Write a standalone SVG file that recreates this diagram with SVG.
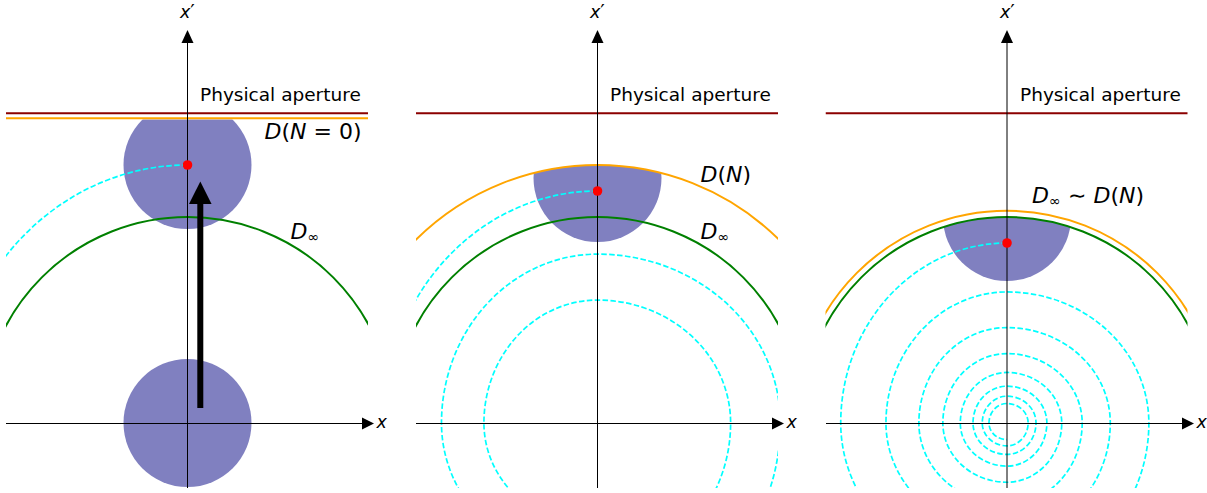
<svg xmlns="http://www.w3.org/2000/svg" width="1207" height="493" viewBox="0 0 1207 493">
<style>
text{font-family:"DejaVu Sans","Liberation Sans",sans-serif;fill:#000}
.lbl{font-size:18.5px}
.math{font-size:22px}
.axl{font-size:17.5px}
.sub{font-size:14.5px}
.pr{font-size:20px}
.it{font-style:italic}
.ax{stroke:#000;stroke-width:1;fill:none}
.ap{stroke:#8b0000;stroke-width:2}
.or{stroke:#ffa500;stroke-width:2;fill:none}
.gr{stroke:#008000;stroke-width:2;fill:none}
.sp{stroke:#00ffff;stroke-width:1.7;fill:none;stroke-dasharray:5.5 2.4}
.blob{fill:#8080c0}
.dot{fill:#ff0000}
.head{fill:#000}
</style>
<defs>
<clipPath id="panel"><rect x="-181.5" y="-423" width="362" height="488"/></clipPath>
<clipPath id="c1"><rect x="-100" y="-303.6" width="200" height="400"/></clipPath>
<clipPath id="c2"><circle r="258"/></clipPath>
<clipPath id="c3"><circle r="206"/></clipPath>
</defs>

<g id="panel-a" transform="translate(187.5,423)">
 <g clip-path="url(#panel)">
  <circle class="blob" cy="-258" r="64" clip-path="url(#c1)"/>
  <circle class="blob" r="64"/>
  <line class="ap" x1="-181.5" y1="-309.7" x2="180.5" y2="-309.7"/>
  <line class="or" x1="-181.5" y1="-304.7" x2="180.5" y2="-304.7"/>
  <circle class="gr" r="206"/>
  <path class="sp" d="M0,-258 A238.3 258 0 0 0 -238.3,0"/>
 </g>
 <g id="axes-a">
  <line class="ax" x1="-181.5" y1="0.5" x2="175" y2="0.5"/>
  <polygon class="head" points="186.5,0.5 174.5,-5.5 174.5,6.5"/>
  <line class="ax" x1="0" y1="65" x2="0" y2="-381"/>
  <polygon class="head" points="0,-393 -6,-380 6,-380"/>
  <text class="axl it" x="189" y="4.5">x</text>
  <text class="axl" x="-7.5" y="-405"><tspan class="it">x</tspan><tspan class="pr">′</tspan></text>
 </g>
 <g id="shift-arrow">
  <line stroke="#000" stroke-width="6" x1="12.8" y1="-15" x2="12.8" y2="-220"/>
  <polygon class="head" points="12.8,-241.5 1.5,-219 24.1,-219"/>
 </g>
 <circle class="dot" cy="-258" r="4.8"/>
 <text class="lbl" x="12.5" y="-322.5">Physical aperture</text>
 <text class="math" x="77" y="-284.5"><tspan class="it">D</tspan>(<tspan class="it">N</tspan> = 0)</text>
 <text class="math" x="103" y="-184"><tspan class="it">D</tspan><tspan class="sub" dy="3">∞</tspan></text>
</g>

<g id="panel-b" transform="translate(597.5,423)">
 <g clip-path="url(#panel)">
  <circle class="blob" cy="-245" r="64" clip-path="url(#c2)"/>
  <line class="ap" x1="-181.5" y1="-309.7" x2="180.5" y2="-309.7"/>
  <circle class="or" r="258"/>
  <circle class="gr" r="206"/>
  <path class="sp" d="M0,-232 A214.30 232 0 0 0 -214.30,0 A214.30 197.95 0 0 0 0,197.95 A182.85 197.95 0 0 0 182.85,0 A182.85 168.90 0 0 0 0,-168.90 A156.01 168.90 0 0 0 -156.01,0 A156.01 144.11 0 0 0 0,144.11 A133.12 144.11 0 0 0 133.12,0 A133.12 122.96 0 0 0 0,-122.96 A113.58 122.96 0 0 0 -113.58,0 A113.58 104.91 0 0 0 0,104.91"/>
 </g>
 <g id="axes-b">
  <line class="ax" x1="-181.5" y1="0.5" x2="175" y2="0.5"/>
  <polygon class="head" points="186.5,0.5 174.5,-5.5 174.5,6.5"/>
  <line class="ax" x1="0" y1="65" x2="0" y2="-381"/>
  <polygon class="head" points="0,-393 -6,-380 6,-380"/>
  <text class="axl it" x="189" y="4.5">x</text>
  <text class="axl" x="-7.5" y="-405"><tspan class="it">x</tspan><tspan class="pr">′</tspan></text>
 </g>
 <circle class="dot" cy="-232" r="4.8"/>
 <text class="lbl" x="12.5" y="-322.5">Physical aperture</text>
 <text class="math" x="103" y="-241.5"><tspan class="it">D</tspan>(<tspan class="it">N</tspan>)</text>
 <text class="math" x="103" y="-184"><tspan class="it">D</tspan><tspan class="sub" dy="3">∞</tspan></text>
</g>

<g id="panel-c" transform="translate(1007,423)">
 <g clip-path="url(#panel)">
  <circle class="blob" cy="-206" r="64" clip-path="url(#c3)"/>
  <line class="ap" x1="-181.5" y1="-309.7" x2="181" y2="-309.7"/>
  <circle class="or" r="212.3"/>
  <circle class="gr" r="206"/>
  <path class="sp" d="M0,-180 A166.27 180 0 0 0 -166.27,0 A166.27 153.58 0 0 0 0,153.58 A141.86 153.58 0 0 0 141.86,0 A141.86 131.04 0 0 0 0,-131.04 A121.04 131.04 0 0 0 -121.04,0 A121.04 111.81 0 0 0 0,111.81 A103.28 111.81 0 0 0 103.28,0 A103.28 95.40 0 0 0 0,-95.40 A88.12 95.40 0 0 0 -88.12,0 A88.12 81.40 0 0 0 0,81.40 A75.19 81.40 0 0 0 75.19,0 A75.19 69.45 0 0 0 0,-69.45 A64.15 69.45 0 0 0 -64.15,0 A64.15 59.26 0 0 0 0,59.26 A54.74 59.26 0 0 0 54.74,0 A54.74 50.56 0 0 0 0,-50.56 A46.70 50.56 0 0 0 -46.70,0 A46.70 43.14 0 0 0 0,43.14 A39.85 43.14 0 0 0 39.85,0 A39.85 36.81 0 0 0 0,-36.81 A34.00 36.81 0 0 0 -34.00,0 A34.00 31.41 0 0 0 0,31.41 A29.01 31.41 0 0 0 29.01,0 A29.01 26.80 0 0 0 0,-26.80 A24.75 26.80 0 0 0 -24.75,0 A24.75 22.86 0 0 0 0,22.86 A21.12 22.86 0 0 0 21.12,0 A21.12 19.51 0 0 0 0,-19.51 A18.02 19.51 0 0 0 -18.02,0 A18.02 16.65 0 0 0 0,16.65"/>
 </g>
 <g id="axes-c">
  <line class="ax" x1="-181" y1="0.5" x2="175" y2="0.5"/>
  <polygon class="head" points="187,0.5 175,-5.5 175,6.5"/>
  <line class="ax" x1="0" y1="65" x2="0" y2="-381"/>
  <polygon class="head" points="0,-393 -6,-380 6,-380"/>
  <text class="axl it" x="189.5" y="4.5">x</text>
  <text class="axl" x="-7" y="-405"><tspan class="it">x</tspan><tspan class="pr">′</tspan></text>
 </g>
 <circle class="dot" cy="-180" r="4.8"/>
 <text class="lbl" x="13" y="-322.5">Physical aperture</text>
 <text class="math" x="25" y="-220"><tspan class="it">D</tspan><tspan class="sub" dy="3">∞</tspan><tspan dy="-3"> ∼ </tspan><tspan class="it">D</tspan>(<tspan class="it">N</tspan>)</text>
</g>
</svg>
